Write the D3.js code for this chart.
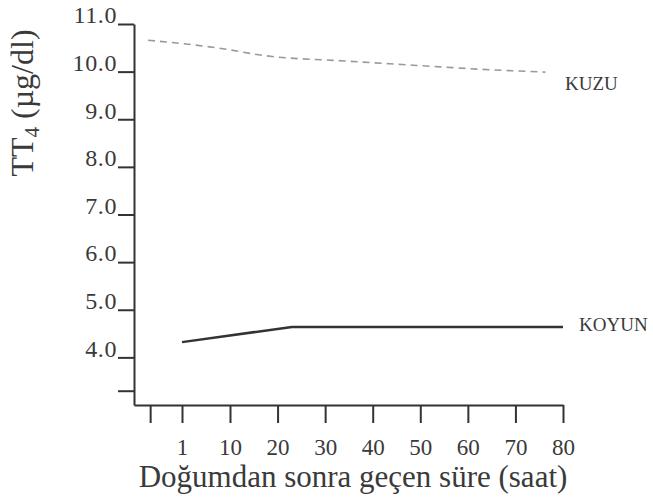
<!DOCTYPE html>
<html>
<head>
<meta charset="utf-8">
<script src="https://cdn.jsdelivr.net/npm/d3@7"></script>
<style>
  body { margin: 0; background: #fff; }
  text { font-family: "Liberation Serif", "Times New Roman", serif; fill: #3a3a3a; }
</style>
</head>
<body>
<svg></svg>
<script>
// values
const yTicks = [3.3, 4, 5, 6, 7, 8, 9, 10, 11];
const xTicks = [-6.3, 1, 10, 20, 30, 40, 50, 60, 70, 80];
const koyunHours = [1, 23, 80];
const koyunValues = [4.32, 4.64, 4.64];
const kuzuHours = [-6.8, 7.5, 17.8, 34.6, 54.2, 62.6, 76.3];
const kuzuValues = [10.66, 10.50, 10.33, 10.22, 10.10, 10.05, 9.99];

const width = 653;
const height = 498;

const svg = d3.select('svg')
  .attr('width', width)
  .attr('height', height);

// x axis is not evenly spaced near the start, "1" sits where 0 would be
const x = d3.scaleLinear()
  .domain([-10, 1, 10, 80])
  .range([134, 182, 230, 563]);

const y = d3.scaleLinear()
  .domain([3, 11])
  .range([405, 24]);

// Y AXIS
const yAxis = svg.append('g')
  .attr('transform', 'translate(134,0)')
  .call(d3.axisLeft(y)
    .tickValues(yTicks)
    .tickSize(16)
    .tickSizeOuter(0)
    .tickFormat(d => d === 3.3 ? '' : d.toFixed(1)));

yAxis.selectAll('text')
  .attr('x', -17)
  .attr('dy', '-0.05em')
  .attr('font-size', 24)
  .attr('letter-spacing', 0.6)
  .attr('fill', '#3a3a3a');

// X AXIS
const xAxis = svg.append('g')
  .attr('transform', 'translate(0,405)')
  .call(d3.axisBottom(x)
    .tickValues(xTicks)
    .tickSize(18)
    .tickSizeOuter(0)
    .tickFormat(d => d < 0 ? '' : d));

xAxis.selectAll('text')
  .attr('y', 50)
  .attr('dy', 0)
  .attr('font-size', 23)
  .attr('fill', '#3a3a3a');

svg.selectAll('.domain, .tick line')
  .attr('stroke', '#333')
  .attr('stroke-width', 2);

// LINES
const kuzu = kuzuHours.map((h, i) => [h, kuzuValues[i]]);
const koyun = koyunHours.map((h, i) => [h, koyunValues[i]]);

const line = d3.line()
  .x(d => x(d[0]))
  .y(d => y(d[1]));

svg.append('path')
  .datum(kuzu)
  .attr('d', line.curve(d3.curveMonotoneX))
  .attr('fill', 'none')
  .attr('stroke', '#9a9a9a')
  .attr('stroke-width', 1.6)
  .attr('stroke-dasharray', '7 5');

svg.append('path')
  .datum(koyun)
  .attr('d', line.curve(d3.curveLinear))
  .attr('fill', 'none')
  .attr('stroke', '#333')
  .attr('stroke-width', 2.5);

// line labels
svg.append('text')
  .attr('x', 565)
  .attr('y', 90)
  .attr('font-size', 19)
  .attr('fill', '#444')
  .text('KUZU');

svg.append('text')
  .attr('x', 579)
  .attr('y', 331)
  .attr('font-size', 19)
  .attr('fill', '#444')
  .text('KOYUN');

// axis titles
svg.append('text')
  .attr('x', 353)
  .attr('y', 487)
  .attr('text-anchor', 'middle')
  .attr('font-size', 31)
  .text('Doğumdan sonra geçen süre (saat)');

const yTitle = svg.append('text')
  .attr('transform', 'translate(33,103) rotate(-90)')
  .attr('text-anchor', 'middle')
  .attr('font-size', 32);
yTitle.append('tspan').text('TT');
yTitle.append('tspan').attr('font-size', 21).attr('dy', 6).text('4');
yTitle.append('tspan').attr('dy', -6).text(' (µg/dl)');
</script>
</body>
</html>
